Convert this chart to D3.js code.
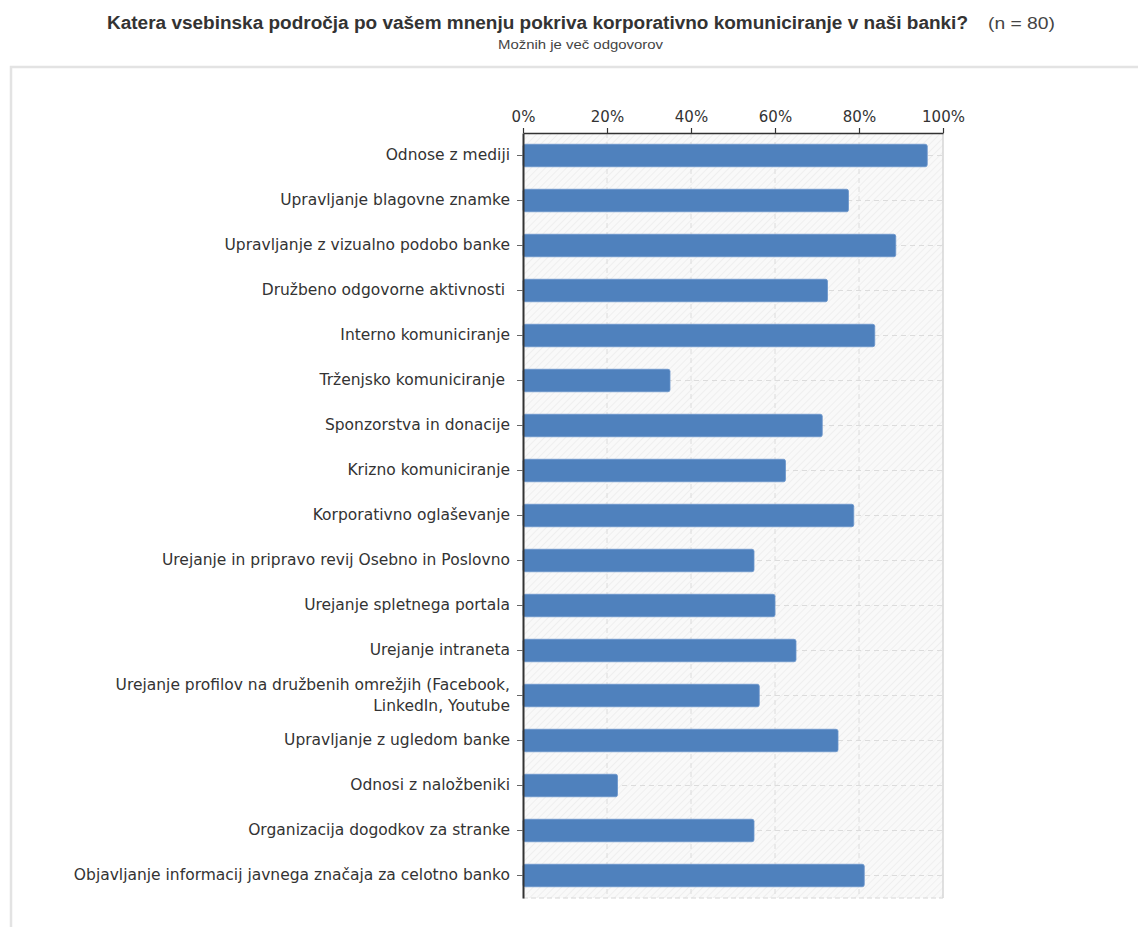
<!DOCTYPE html>
<html>
<head>
<meta charset="utf-8">
<style>
	body { margin: 0; background: #fff; }
	svg { display: block; }
	.naslov { font-family: "Liberation Sans", Arial, sans-serif; fill: #333; }
	.axis text { font-family: "DejaVu Sans", Verdana, sans-serif; font-size: 15px; fill: #333; }
	.axis--y text { white-space: pre; font-size: 15.5px; }
</style>
<script src="https://d3js.org/d3.v7.min.js"></script>
</head>
<body>
<svg width="1138" height="927"></svg>
<script>

var podrocja = [
	"Odnose z mediji",
	"Upravljanje blagovne znamke",
	"Upravljanje z vizualno podobo banke",
	"Družbeno odgovorne aktivnosti ",
	"Interno komuniciranje",
	"Trženjsko komuniciranje ",
	"Sponzorstva in donacije",
	"Krizno komuniciranje",
	"Korporativno oglaševanje",
	"Urejanje in pripravo revij Osebno in Poslovno",
	"Urejanje spletnega portala",
	"Urejanje intraneta",
	"Urejanje profilov na družbenih omrežjih (Facebook, LinkedIn, Youtube",
	"Upravljanje z ugledom banke",
	"Odnosi z naložbeniki",
	"Organizacija dogodkov za stranke",
	"Objavljanje informacij javnega značaja za celotno banko"
];

// delež odgovorov v %
var odstotki = [96.25, 77.5, 88.75, 72.5, 83.75, 35, 71.25, 62.5, 78.75, 55, 60, 65, 56.25, 75, 22.5, 55, 81.25];

var osTicks = [0, 20, 40, 60, 80, 100];

var naslov = "Katera vsebinska področja po vašem mnenju pokriva korporativno komuniciranje v naši banki?";
var vzorec = "(n = 80)";
var podnaslov = "Možnih je več odgovorov";

var svg = d3.select("svg");

// okvir
svg.append("rect")
	.attr("x", 11).attr("y", 67)
	.attr("width", 1160).attr("height", 900)
	.attr("fill", "none")
	.attr("stroke", "#e3e3e3")
	.attr("stroke-width", 2.5);

svg.append("text")
	.attr("class", "naslov")
	.attr("x", 107).attr("y", 29)
	.attr("textLength", 861)
	.attr("lengthAdjust", "spacingAndGlyphs")
	.style("font-size", "17.5px")
	.style("font-weight", "bold")
	.text(naslov);

svg.append("text")
	.attr("class", "naslov")
	.attr("x", 988).attr("y", 29)
	.attr("textLength", 67)
	.attr("lengthAdjust", "spacingAndGlyphs")
	.style("font-size", "17px")
	.style("fill", "#444")
	.text(vzorec);

svg.append("text")
	.attr("class", "naslov")
	.attr("x", 498).attr("y", 49)
	.attr("textLength", 165)
	.attr("lengthAdjust", "spacingAndGlyphs")
	.style("font-size", "12.5px")
	.style("fill", "#444")
	.text(podnaslov);

var margin = {top: 133, left: 523},
	width = 420,
	height = 765,
	g = svg.append("g").attr("transform", "translate(" + margin.left + "," + margin.top + ")");

var x = d3.scaleLinear().domain([0, 100]).range([0, width]),
	y = d3.scaleBand().domain(podrocja).range([0, height]).paddingInner(0.5).paddingOuter(0.25);

// šrafirano ozadje
var defs = svg.append("defs");
var vzorecOzadja = defs.append("pattern")
	.attr("id", "srafura")
	.attr("patternUnits", "userSpaceOnUse")
	.attr("width", 5).attr("height", 5)
	.attr("patternTransform", "rotate(45)");
vzorecOzadja.append("rect").attr("width", 5).attr("height", 5).attr("fill", "#f9f9f9");
vzorecOzadja.append("line")
	.attr("x1", 0).attr("y1", 0).attr("x2", 0).attr("y2", 5)
	.attr("stroke", "#ececec").attr("stroke-width", 1.5);

g.append("rect")
	.attr("width", width).attr("height", height)
	.attr("fill", "url(#srafura)");

// mreža
g.selectAll(".grid-x")
	.data(osTicks.slice(1, -1))
	.enter().append("line")
	  .attr("class", "grid-x")
	  .attr("x1", function(d) { return x(d); })
	  .attr("x2", function(d) { return x(d); })
	  .attr("y1", 0).attr("y2", height)
	  .attr("stroke", "#dcdcdc")
	  .attr("stroke-dasharray", "5,4");

g.selectAll(".grid-y")
	.data(podrocja)
	.enter().append("line")
	  .attr("class", "grid-y")
	  .attr("x1", 0).attr("x2", width)
	  .attr("y1", function(d) { return y(d) + y.bandwidth() / 2; })
	  .attr("y2", function(d) { return y(d) + y.bandwidth() / 2; })
	  .attr("stroke", "#dcdcdc")
	  .attr("stroke-dasharray", "5,4");

g.append("line")
	.attr("x1", width).attr("x2", width)
	.attr("y1", 0).attr("y2", height)
	.attr("stroke", "#d6d6d6").attr("stroke-width", 1.5);

g.append("line")
	.attr("x1", 0).attr("x2", width)
	.attr("y1", height).attr("y2", height)
	.attr("stroke", "#d6d6d6").attr("stroke-dasharray", "5,3");

// stolpci
g.selectAll(".bar")
	.data(podrocja)
	.enter().append("rect")
	  .attr("class", "bar")
	  .attr("x", x(0))
	  .attr("y", function(d) { return y(d); })
	  .attr("width", function(d, i) { return x(odstotki[i]) - x(0); })
	  .attr("height", y.bandwidth())
	  .attr("rx", 2)
	  .attr("fill", "#4f81bd")
	  .attr("stroke", "#6b96cb")
	  .attr("stroke-width", 0.8);

// osi
var osX = g.append("g")
	.attr("class", "axis axis--x")
	.call(d3.axisTop(x).tickValues(osTicks).tickFormat(function(d) { return d + "%"; })
		.tickSize(5).tickSizeOuter(0).tickPadding(6));
osX.select(".domain").attr("stroke", "#333").attr("stroke-width", 1.6);
osX.selectAll(".tick line").attr("stroke", "#333").attr("stroke-width", 1.2);

var osY = g.append("g")
	.attr("class", "axis axis--y")
	.call(d3.axisLeft(y).tickSize(6).tickSizeOuter(0).tickPadding(7));
osY.select(".domain").attr("stroke", "#333").attr("stroke-width", 2);
osY.selectAll(".tick line").attr("stroke", "#666");
osY.selectAll(".tick text").call(prelomi, 460);

// dolge oznake prelomimo v več vrstic
function prelomi(besedilo, sirina) {
	besedilo.each(function() {
		var t = d3.select(this);
		if (this.getComputedTextLength() <= sirina) return;
		var besede = t.text().split(" "),
			vrstice = [],
			vrsta = [];
		t.text(null);
		var tspan = t.append("tspan");
		besede.forEach(function(b) {
			vrsta.push(b);
			tspan.text(vrsta.join(" "));
			if (tspan.node().getComputedTextLength() > sirina && vrsta.length > 1) {
				vrsta.pop();
				vrstice.push(vrsta.join(" "));
				vrsta = [b];
				tspan.text(b);
			}
		});
		vrstice.push(vrsta.join(" "));
		t.text(null).attr("dy", null);
		var xt = t.attr("x"), lh = 1.3;
		vrstice.forEach(function(v, i) {
			t.append("tspan")
				.attr("x", xt)
				.attr("dy", i == 0 ? (0.32 - (vrstice.length - 1) * lh / 2) + "em" : lh + "em")
				.text(v);
		});
	});
}

</script>
</body>
</html>
